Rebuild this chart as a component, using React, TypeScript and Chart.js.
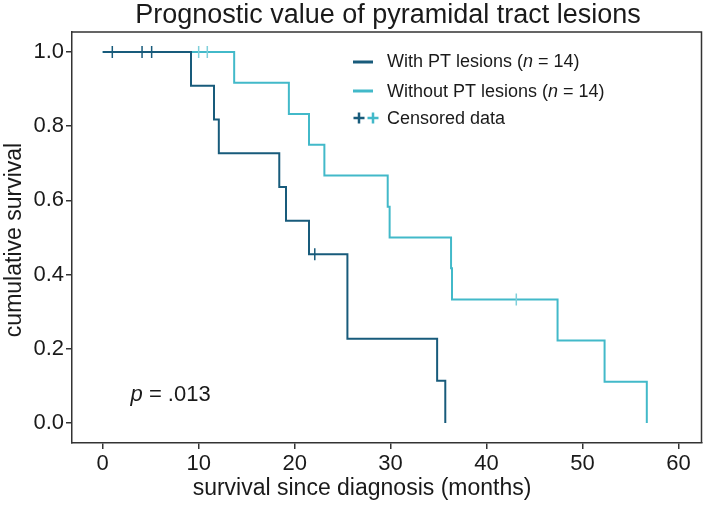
import React, { useEffect, useRef } from 'react';
import { Chart, registerables } from 'chart.js';

Chart.register(...registerables);

// ---- data ----
const chartTitle = 'Prognostic value of pyramidal tract lesions';
const xAxisTitle = 'survival since diagnosis (months)';
const yAxisTitle = 'cumulative survival';

const withPtTimes = [0, 9.2, 11.6, 12.1, 18.4, 19.1, 21.5, 25.5, 34.85, 35.7];
const withPtSurvival = [1, 0.909, 0.818, 0.727, 0.636, 0.545, 0.455, 0.227, 0.114, 0];
const withPtCensorTimes = [1.0, 4.1, 5.1, 22.1];
const withPtCensorSurvival = [1, 1, 1, 0.455];

const withoutPtTimes = [0, 13.7, 19.4, 21.5, 23.1, 29.7, 29.9, 36.3, 36.4, 47.4, 52.3, 56.7];
const withoutPtSurvival = [1, 0.917, 0.833, 0.75, 0.667, 0.583, 0.5, 0.417, 0.333, 0.222, 0.111, 0];
const withoutPtCensorTimes = [10.0, 10.9, 43.1];
const withoutPtCensorSurvival = [1, 1, 0.333];

const legendWith = ['With PT lesions (', 'n', ' = 14)'];
const legendWithout = ['Without PT lesions (', 'n', ' = 14)'];
const legendCensored = 'Censored data';
const pValueLabel = ['p', ' = .013'];
const pValueAnchor = { x: 2.9, y: 0.059 };

const xMin = -3.2;
const xMax = 62.4;
const yMin = -0.054;
const yMax = 1.054;

const DARK = '#185b7b';
const LIGHT = '#42b9c9';
const LIGHT_CENSOR = '#7fcfda';
const TEXT = '#1a1a1a';
const AXIS = '#333333';
const FONT = '"Liberation Sans", Arial, Helvetica, sans-serif';

const toPoints = (xs: number[], ys: number[]) => xs.map((x, i) => ({ x, y: ys[i] }));

const drawParts = (ctx: CanvasRenderingContext2D, parts: string[], x: number, y: number, size: number) => {
  let cx = x;
  parts.forEach((p, i) => {
    const italic = parts.length === 3 ? i === 1 : i === 0;
    ctx.font = `${italic ? 'italic ' : ''}${size}px ${FONT}`;
    ctx.fillText(p, cx, y);
    cx += ctx.measureText(p).width;
  });
};

const overlayPlugin = {
  id: 'overlay',
  afterDraw(chart: any) {
    const { ctx, chartArea: a, scales } = chart;
    ctx.save();
    // top and right frame
    ctx.strokeStyle = AXIS;
    ctx.lineWidth = 1.5;
    ctx.beginPath();
    ctx.moveTo(a.left, a.top);
    ctx.lineTo(a.right, a.top);
    ctx.lineTo(a.right, a.bottom);
    ctx.stroke();

    ctx.fillStyle = TEXT;
    ctx.textBaseline = 'alphabetic';

    // title
    ctx.textAlign = 'center';
    ctx.font = `27px ${FONT}`;
    ctx.fillText(chartTitle, 388, 23);

    // x axis title
    ctx.font = `23px ${FONT}`;
    ctx.fillText(xAxisTitle, 362, 495);

    // y axis title
    ctx.save();
    ctx.translate(21, 240);
    ctx.rotate(-Math.PI / 2);
    ctx.fillText(yAxisTitle, 0, 0);
    ctx.restore();

    // legend
    ctx.textAlign = 'left';
    ctx.lineCap = 'butt';
    ctx.lineWidth = 3;
    ctx.strokeStyle = DARK;
    ctx.beginPath();
    ctx.moveTo(353, 62);
    ctx.lineTo(373, 62);
    ctx.stroke();
    ctx.strokeStyle = LIGHT;
    ctx.beginPath();
    ctx.moveTo(353, 91);
    ctx.lineTo(373, 91);
    ctx.stroke();
    const plus = (cx: number, cy: number, color: string) => {
      ctx.strokeStyle = color;
      ctx.lineWidth = 2.5;
      ctx.beginPath();
      ctx.moveTo(cx - 5.5, cy);
      ctx.lineTo(cx + 5.5, cy);
      ctx.moveTo(cx, cy - 5.5);
      ctx.lineTo(cx, cy + 5.5);
      ctx.stroke();
    };
    plus(359, 118, DARK);
    plus(373, 118, LIGHT);
    ctx.fillStyle = TEXT;
    drawParts(ctx, legendWith, 387, 67, 18);
    drawParts(ctx, legendWithout, 387, 97, 18);
    ctx.font = `18px ${FONT}`;
    ctx.fillText(legendCensored, 387, 124);

    // p value
    const px = scales.x.getPixelForValue(pValueAnchor.x);
    const py = scales.y.getPixelForValue(pValueAnchor.y);
    drawParts(ctx, pValueLabel, px, py, 22);

    ctx.restore();
  },
};

export default function App() {
  const canvasRef = useRef<HTMLCanvasElement | null>(null);

  useEffect(() => {
    document.body.style.margin = '0';
    const canvas = canvasRef.current;
    if (!canvas) return;

    const tickFont = { family: FONT, size: 22 };
    const chart = new Chart(canvas, {
      type: 'line',
      data: {
        datasets: [
          {
            label: 'With PT lesions',
            data: toPoints(withPtTimes, withPtSurvival),
            borderColor: DARK,
            borderWidth: 2,
            pointRadius: 0,
            stepped: 'before',
            fill: false,
            order: 1,
          },
          {
            label: 'With PT censored',
            data: toPoints(withPtCensorTimes, withPtCensorSurvival),
            showLine: false,
            pointStyle: 'line',
            rotation: 90,
            pointRadius: 6,
            pointBorderWidth: 1.5,
            pointBorderColor: DARK,
            borderColor: DARK,
            order: 0,
          },
          {
            label: 'Without PT lesions',
            data: toPoints(withoutPtTimes, withoutPtSurvival),
            borderColor: LIGHT,
            borderWidth: 2,
            pointRadius: 0,
            stepped: 'before',
            fill: false,
            order: 3,
          },
          {
            label: 'Without PT censored',
            data: toPoints(withoutPtCensorTimes, withoutPtCensorSurvival),
            showLine: false,
            pointStyle: 'line',
            rotation: 90,
            pointRadius: 6,
            pointBorderWidth: 1.5,
            pointBorderColor: LIGHT_CENSOR,
            borderColor: LIGHT_CENSOR,
            order: 2,
          },
        ] as any,
      },
      options: {
        animation: false,
        responsive: false,
        events: [],
        layout: { padding: { top: 32, right: 3, left: 0, bottom: 0 } },
        plugins: {
          legend: { display: false },
          tooltip: { enabled: false },
          title: { display: false },
        },
        scales: {
          x: {
            type: 'linear',
            min: xMin,
            max: xMax,
            ticks: {
              stepSize: 10,
              includeBounds: false,
              font: tickFont,
              color: TEXT,
              padding: 2,
              maxRotation: 0,
            },
            grid: { drawOnChartArea: false, drawTicks: true, tickLength: 6, color: AXIS, lineWidth: 1.5 },
            border: { display: true, color: AXIS, width: 1.5 },
            afterFit: (s: any) => {
              s.height = 63;
            },
          },
          y: {
            type: 'linear',
            min: yMin,
            max: yMax,
            ticks: {
              stepSize: 0.2,
              includeBounds: false,
              font: tickFont,
              color: TEXT,
              padding: 2,
              callback: (v: any) => Number(v).toFixed(1),
            },
            grid: { drawOnChartArea: false, drawTicks: true, tickLength: 6, color: AXIS, lineWidth: 1.5 },
            border: { display: true, color: AXIS, width: 1.5 },
            afterFit: (s: any) => {
              s.width = 72;
            },
          },
        },
      } as any,
      plugins: [overlayPlugin],
    });

    return () => chart.destroy();
  }, []);

  return (
    <div style={{ width: 709, height: 506, background: '#fff' }}>
      <canvas ref={canvasRef} width={709} height={506} style={{ display: 'block' }} />
    </div>
  );
}
